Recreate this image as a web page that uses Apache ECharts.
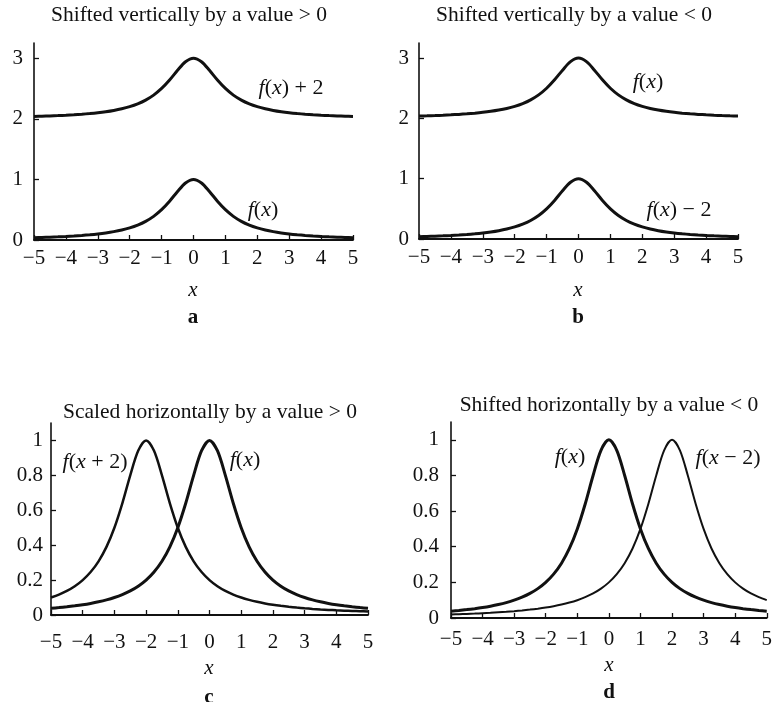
<!DOCTYPE html>
<html><head><meta charset="utf-8">
<script src="https://cdn.jsdelivr.net/npm/echarts@6/dist/echarts.min.js"></script>
<style>html,body{margin:0;padding:0;background:#fff}#c{width:775px;height:702px}</style>
</head><body><div id="c"></div>
<script>
// x grid shared by all curves
const xs = [-5,-4.75,-4.5,-4.25,-4,-3.75,-3.5,-3.25,-3,-2.75,-2.5,-2.25,-2,-1.75,-1.5,-1.25,-1,-0.75,-0.5,-0.25,0,0.25,0.5,0.75,1,1.25,1.5,1.75,2,2.25,2.5,2.75,3,3.25,3.5,3.75,4,4.25,4.5,4.75,5];
// f(x) base curve
const fBase = [0.0385,0.0424,0.0471,0.0525,0.0588,0.0664,0.0755,0.0865,0.1,0.1168,0.1379,0.1649,0.2,0.2462,0.3077,0.3902,0.5,0.64,0.8,0.9412,1,0.9412,0.8,0.64,0.5,0.3902,0.3077,0.2462,0.2,0.1649,0.1379,0.1168,0.1,0.0865,0.0755,0.0664,0.0588,0.0525,0.0471,0.0424,0.0385];
// upper curve in panels a, b
const fUpper = [2.0385,2.0424,2.0471,2.0525,2.0588,2.0664,2.0755,2.0865,2.1,2.1168,2.1379,2.1649,2.2,2.2462,2.3077,2.3902,2.5,2.64,2.8,2.9412,3,2.9412,2.8,2.64,2.5,2.3902,2.3077,2.2462,2.2,2.1649,2.1379,2.1168,2.1,2.0865,2.0755,2.0664,2.0588,2.0525,2.0471,2.0424,2.0385];
// f(x+2) panel c
const fLeft = [0.1,0.1168,0.1379,0.1649,0.2,0.2462,0.3077,0.3902,0.5,0.64,0.8,0.9412,1,0.9412,0.8,0.64,0.5,0.3902,0.3077,0.2462,0.2,0.1649,0.1379,0.1168,0.1,0.0865,0.0755,0.0664,0.0588,0.0525,0.0471,0.0424,0.0385,0.035,0.032,0.0293,0.027,0.0249,0.0231,0.0215,0.02];
// f(x-2) panel d
const fRight = [0.02,0.0215,0.0231,0.0249,0.027,0.0293,0.032,0.035,0.0385,0.0424,0.0471,0.0525,0.0588,0.0664,0.0755,0.0865,0.1,0.1168,0.1379,0.1649,0.2,0.2462,0.3077,0.3902,0.5,0.64,0.8,0.9412,1,0.9412,0.8,0.64,0.5,0.3902,0.3077,0.2462,0.2,0.1649,0.1379,0.1168,0.1];
const xTicks = [-5,-4,-3,-2,-1,0,1,2,3,4,5];
const yTicksAB = [0,1,2,3];
const yTicksCD = [0,0.2,0.4,0.6,0.8,1];
const titles = ['Shifted vertically by a value > 0','Shifted vertically by a value < 0','Scaled horizontally by a value > 0','Shifted horizontally by a value < 0'];
const letters = ['a','b','c','d'];

const pts = arr => xs.map((x,i)=>[x,arr[i]]);
const FONT = '"Liberation Serif","DejaVu Serif",serif';
const INK = '#111';
const FS = 21;

const grids = [
  {left:34, top:43, width:319, height:197},
  {left:419, top:43, width:319, height:196},
  {left:51, top:423, width:317, height:192},
  {left:451, top:422, width:317, height:196}
];
const xMargins = [8,8,17,11];
const yMargins = [11,10,8,12];

function xAxis(i){
  return {type:'value', gridIndex:i, min:-5, max:5, interval:1,
    axisLine:{show:true, onZero:false, lineStyle:{color:INK, width:1.8}},
    axisTick:{show:true, inside:true, length:5, customValues:xTicks, lineStyle:{color:INK, width:1.3}},
    splitLine:{show:false},
    axisLabel:{color:INK, fontFamily:FONT, fontSize:FS, margin:xMargins[i], customValues:xTicks,
      formatter:v=>String(v).replace('-','\u2212')}
  };
}
function yAxis(i){
  const ab = i<2;
  return {type:'value', gridIndex:i, min:0, max: ab?3.25:1.1,
    axisLine:{show:true, onZero:false, lineStyle:{color:INK, width:1.6}},
    axisTick:{show:true, inside:true, length:5, customValues: ab?yTicksAB:yTicksCD, lineStyle:{color:INK, width:1.3}},
    splitLine:{show:false},
    axisLabel:{color:INK, fontFamily:FONT, fontSize:FS, margin:yMargins[i], customValues: ab?yTicksAB:yTicksCD,
      formatter:v=>String(v)}
  };
}
function line(i, arr, w){
  return {type:'line', xAxisIndex:i, yAxisIndex:i, data:pts(arr), smooth:0.3, showSymbol:false,
    lineStyle:{color:INK, width:w}, silent:true, animation:false};
}
const rich = {
  i:{fontFamily:FONT, fontStyle:'italic', fontSize:22, fill:INK, color:INK},
  n:{fontFamily:FONT, fontSize:22, fill:INK, color:INK}
};
function lbl(x,y,parts){
  const t = parts.map(p=>'{'+p[0]+'|'+p[1]+'}').join('');
  return {type:'text', x:x, y:y, style:{text:t, rich:rich, align:'center', verticalAlign:'middle', fill:INK}};
}
const fx = [['i','f'],['n','('],['i','x'],['n',')']];
const graphics = [];
const titlePos = [[189,15],[574,15],[210,412],[609,405]];
titlePos.forEach((p,i)=>graphics.push({type:'text', x:p[0], y:p[1],
  style:{text:titles[i], font:'21.5px '+FONT, fill:INK, align:'center', verticalAlign:'middle'}}));
const xNamePos = [[193,290],[578,290],[209,668],[609,665]];
const letterPos = [[193,318],[578,318],[209,698],[609,693]];
xNamePos.forEach(p=>graphics.push({type:'text', x:p[0], y:p[1],
  style:{text:'x', font:'italic 21px '+FONT, fill:INK, align:'center', verticalAlign:'middle'}}));
letterPos.forEach((p,i)=>graphics.push({type:'text', x:p[0], y:p[1],
  style:{text:letters[i], font:'bold 21px '+FONT, fill:INK, align:'center', verticalAlign:'middle'}}));
graphics.push(lbl(291,88, fx.concat([['n',' + 2']])));
graphics.push(lbl(263,210, fx));
graphics.push(lbl(648,82, fx));
graphics.push(lbl(679,210, fx.concat([['n',' \u2212 2']])));
graphics.push(lbl(95,462, [['i','f'],['n','('],['i','x'],['n',' + 2)']]));
graphics.push(lbl(245,460, fx));
graphics.push(lbl(570,457, fx));
graphics.push(lbl(728,458, [['i','f'],['n','('],['i','x'],['n',' \u2212 2)']]));

const chart = echarts.init(document.getElementById('c'), null, {renderer:'canvas'});
chart.setOption({
  animation:false,
  backgroundColor:'#fff',
  grid: grids,
  xAxis: [0,1,2,3].map(xAxis),
  yAxis: [0,1,2,3].map(yAxis),
  series: [
    line(0, fUpper, 3), line(0, fBase, 3),
    line(1, fUpper, 3), line(1, fBase, 3),
    line(2, fLeft, 2.5), line(2, fBase, 3),
    line(3, fBase, 3), line(3, fRight, 2)
  ],
  graphic: graphics
});
</script></body></html>
